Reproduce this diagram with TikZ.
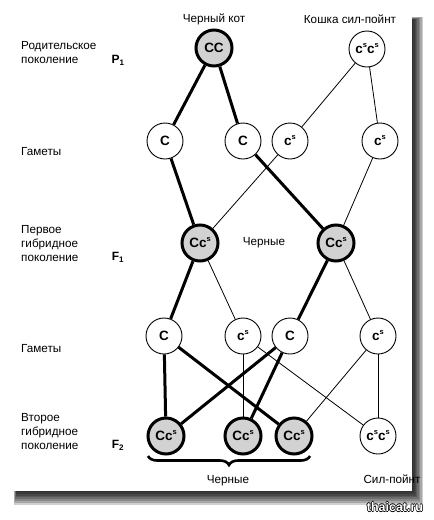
\documentclass[tikz,border=0pt]{standalone}
\usepackage{fontspec}
\setmainfont{Liberation Sans}
\usetikzlibrary{decorations.pathreplacing}
\newcommand\outlinedtxt[1]{\leavevmode\rlap{\hspace{-0.7pt}#1}\rlap{\hspace{0.7pt}#1}\rlap{\raisebox{0.7pt}{#1}}\rlap{\raisebox{-0.7pt}{#1}}{\color{white}#1}}
\tikzset{
  lbl/.style={font=\fontsize{11.7}{14}\selectfont, align=left, anchor=west, inner sep=0pt},
  gen/.style={font=\bfseries\fontsize{12}{14}\selectfont, inner sep=0pt},
  gam/.style={circle, draw, line width=0.9pt, fill=white, minimum size=36pt, inner sep=0pt, font=\bfseries\fontsize{13.5}{15}\selectfont},
  hyb/.style={circle, draw, line width=3pt, fill=gray!35, minimum size=36pt, inner sep=0pt, font=\bfseries\fontsize{13.5}{15}\selectfont},
  thk/.style={line width=3pt},
  thn/.style={line width=0.8pt},
}
\newcommand\cs{c\raisebox{0.45em}{\fontsize{7.5}{8}\selectfont s}}
\begin{document}
\begin{tikzpicture}[x=1pt,y=-1pt]
\useasboundingbox (0,0) rectangle (434,520);
\fill[white] (0,0) rectangle (434,520);
% page shadow
\foreach \d in {0,...,7}
  \fill[black,opacity=0.19] (14+\d*0.4,17+\d*0.4) rectangle (423-\d*1.4,505-\d*1.9);
\fill[white] (12,12) rectangle (412,491);
% headers
\node[lbl, anchor=center] (h1) at (214,19) {Черный кот};
\node[lbl, anchor=center] (h2) at (350,19) {Кошка сил-пойнт};
% left labels
\node[lbl] (l1) at (21,53) {Родительское\\поколение};
\node[lbl] (l2) at (21,152) {Гаметы};
\node[lbl] (l3) at (21,244) {Первое\\гибридное\\поколение};
\node[lbl] (l4) at (21,349) {Гаметы};
\node[lbl] (l5) at (21,432) {Второе\\гибридное\\поколение};
\node[gen] (p1) at (118,60) {P\textsubscript{1}};
\node[gen] (f1) at (118,257) {F\textsubscript{1}};
\node[gen] (f2) at (118,445) {F\textsubscript{2}};
% nodes
\node[hyb] (P) at (214,48) {CC};
\node[gam] (Q) at (367,49) {\cs\cs};
\node[gam] (g1) at (165,141) {C};
\node[gam] (g2) at (243,141) {C};
\node[gam] (g3) at (290,141) {\cs};
\node[gam] (g4) at (380,141) {\cs};
\node[hyb] (F1a) at (200,243) {C\cs};
\node[hyb] (F1b) at (336,243) {C\cs};
\node[lbl, anchor=center] (bl) at (264,243) {Черные};
\node[gam] (k1) at (164,336) {C};
\node[gam] (k2) at (243,336) {\cs};
\node[gam] (k3) at (290,336) {C};
\node[gam] (k4) at (378,336) {\cs};
\node[hyb] (m1) at (166,436) {C\cs};
\node[hyb] (m2) at (243,436) {C\cs};
\node[hyb] (m3) at (294,436) {C\cs};
\node[gam] (m4) at (378,436) {\cs\cs};
\coordinate (bra) at (148,456);
\coordinate (brb) at (310,456);
\draw[line width=2.6pt, decorate, decoration={brace, mirror, amplitude=9pt}] (bra) -- (brb);
\node[lbl, anchor=center] (bl2) at (228,481) {Черные};
\node[lbl, anchor=center] (sp) at (392,479) {Сил-пойнт};
% connectors
\draw[thk] (P) -- (g1);
\draw[thk] (P) -- (g2);
\draw[thn] (Q) -- (g3);
\draw[thn] (Q) -- (g4);
\draw[thk] (g1) -- (F1a);
\draw[thn] (g3) -- (F1a);
\draw[thk] (g2) -- (F1b);
\draw[thn] (g4) -- (F1b);
\draw[thk] (F1a) -- (k1);
\draw[thn] (F1a) -- (k2);
\draw[thk] (F1b) -- (k3);
\draw[thn] (F1b) -- (k4);
\draw[thk] (k1) -- (m1);
\draw[thk] (k1) -- (m3);
\draw[thn] (k2) -- (m2);
\draw[thn] (k2) -- (m4);
\draw[thk] (k3) -- (m1);
\draw[thk] (k3) -- (m2);
\draw[thn] (k4) -- (m3);
\draw[thn] (k4) -- (m4);
% watermark
\node[font=\bfseries\fontsize{12.5}{14}\selectfont, inner sep=0pt] (wm) at (395,507) {\outlinedtxt{thaicat.ru}};
\end{tikzpicture}
\end{document}
